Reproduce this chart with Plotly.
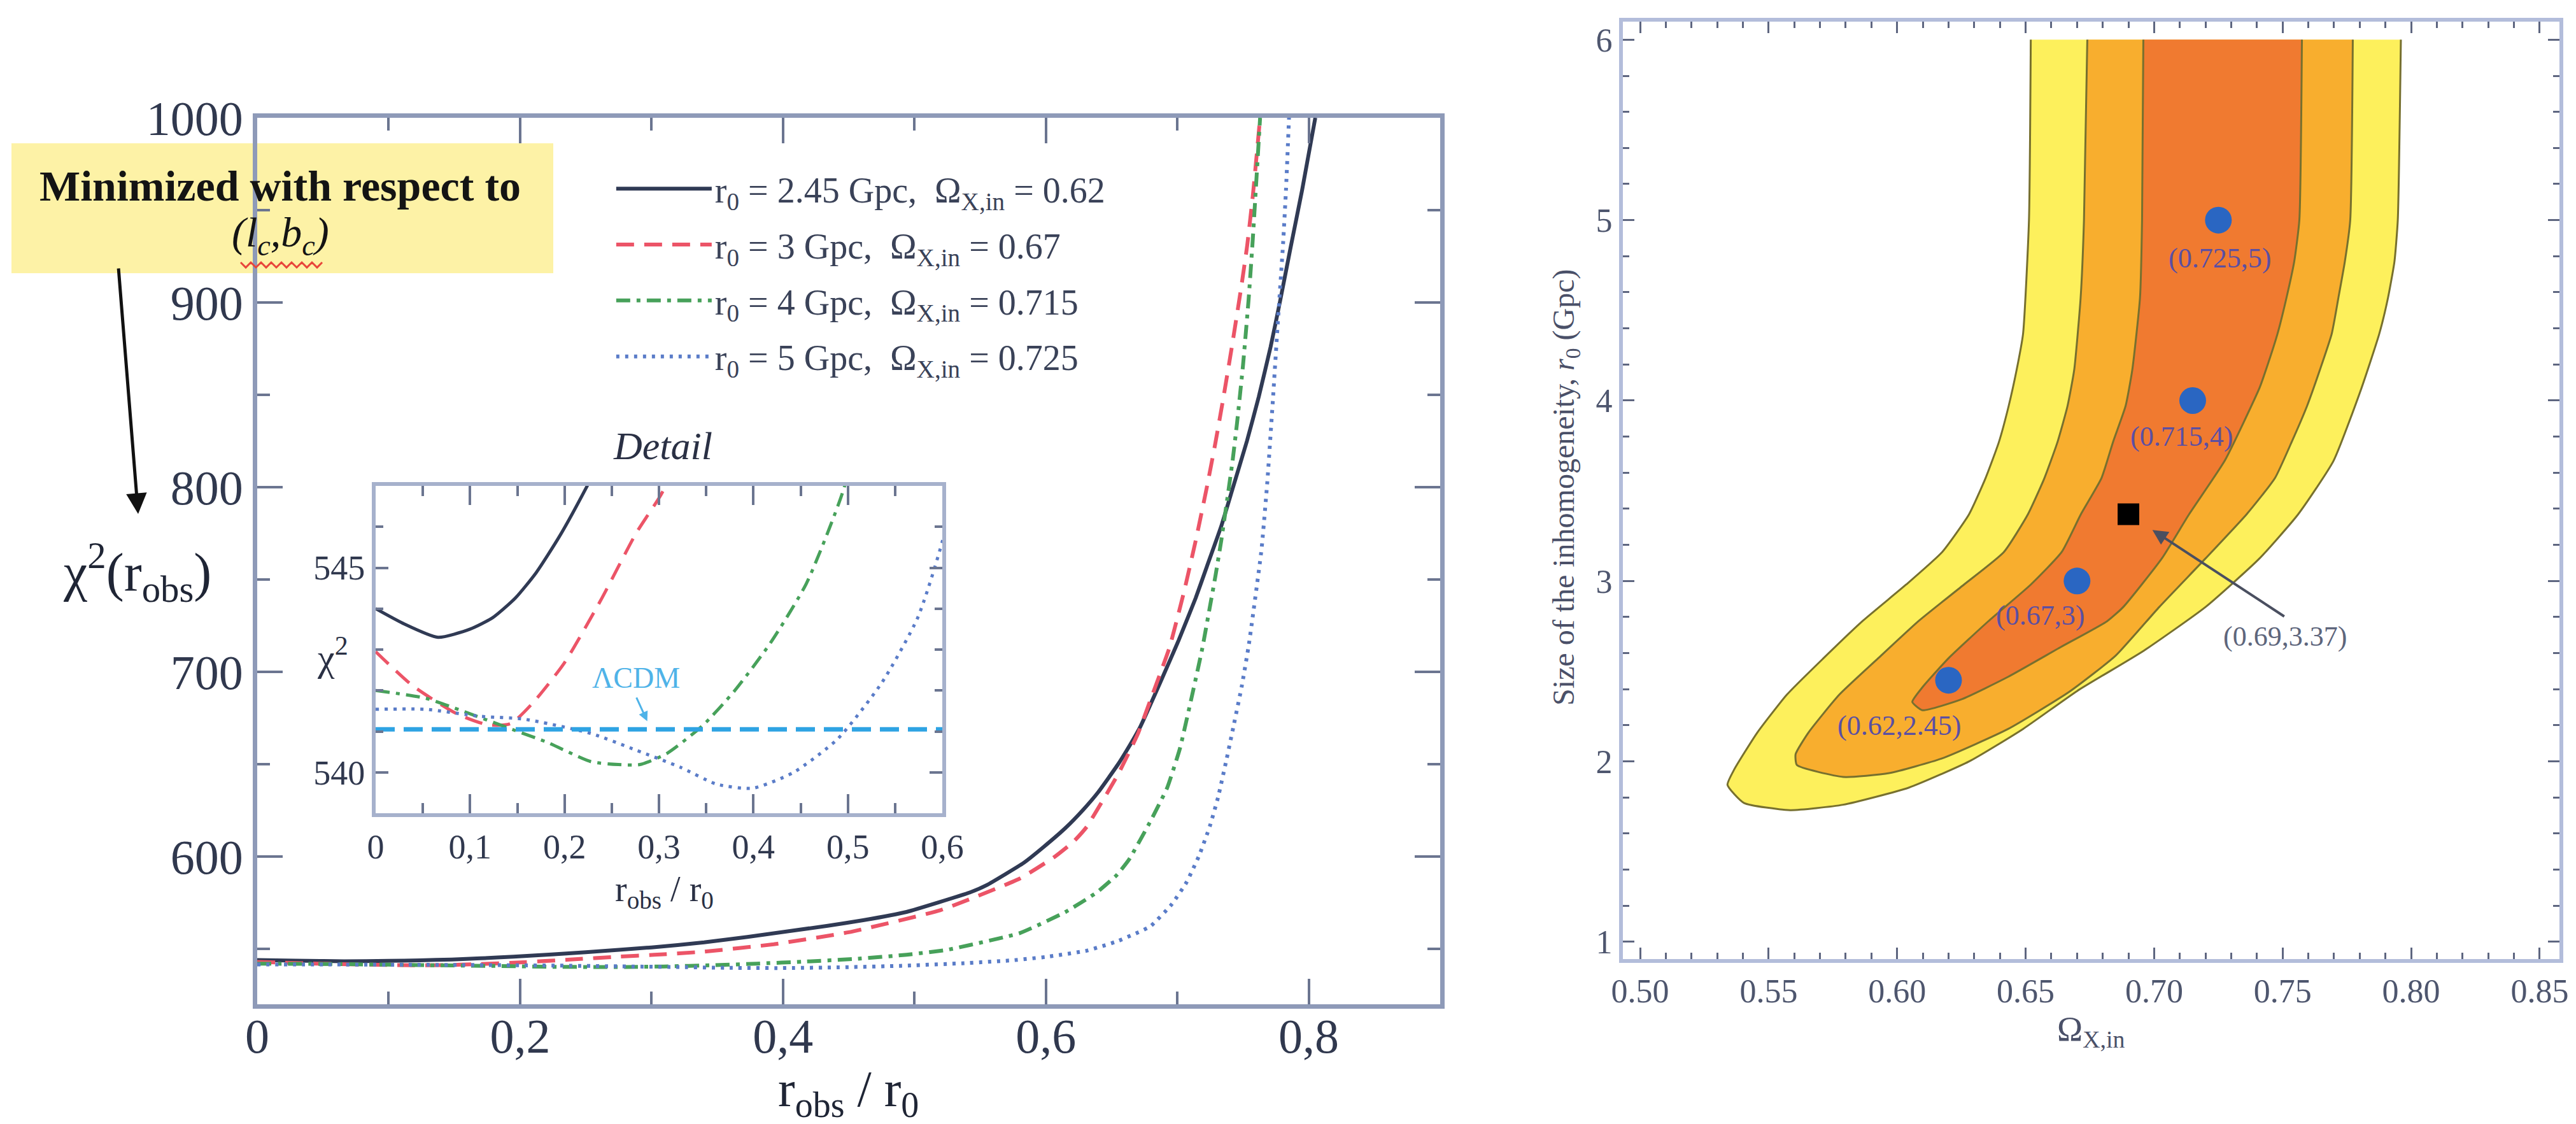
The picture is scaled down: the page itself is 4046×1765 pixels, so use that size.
import plotly.graph_objects as go

FONT = "Liberation Serif"
W, H = 4046, 1765

# ---- left panel : chi^2(r_obs) for four void models
r_245 = [0, 0.029, 0.066, 0.10, 0.124, 0.148, 0.17, 0.195, 0.224, 0.25, 0.3, 0.34, 0.373, 0.434,
         0.461, 0.494, 0.542, 0.555, 0.583, 0.598, 0.615, 0.628, 0.64, 0.655, 0.662, 0.672, 0.6875,
         0.701, 0.714, 0.7225, 0.7335, 0.742, 0.753, 0.762, 0.771, 0.778, 0.786, 0.795, 0.805]
chi_245 = [544.0, 543.64, 543.3, 543.5, 543.78, 544.26, 544.88, 545.78, 547.0, 548.2, 550.8, 553.5,
           556.5, 562.5, 565.5, 570.0, 580.5, 584.5, 596.5, 605.0, 615.5, 625.0, 635.0, 650.0, 658.0,
           670.5, 695.0, 717.0, 740.0, 757.0, 779.0, 799.0, 825.0, 849.0, 876.0, 900.0, 929.0, 961.0,
           1000.0]

r_3 = [0, 0.039, 0.086, 0.119, 0.143, 0.167, 0.2, 0.238, 0.276, 0.302, 0.34, 0.393, 0.45, 0.52,
       0.58, 0.607, 0.621, 0.631, 0.6553, 0.67, 0.681, 0.694, 0.705, 0.714, 0.7225, 0.729, 0.7357,
       0.7422, 0.7488, 0.7532, 0.7575, 0.763]
chi_3 = [542.95, 542.12, 541.43, 541.16, 541.19, 541.71, 542.68, 544.19, 545.85, 546.78, 548.5,
         552.5, 559.0, 571.0, 588.0, 600.0, 608.0, 616.0, 645.0, 666.4, 687.5, 713.0, 743.0, 771.0,
         800.0, 824.0, 851.0, 879.0, 909.0, 931.0, 958.0, 1000.0]

r_4 = [0, 0.053, 0.1, 0.148, 0.181, 0.228, 0.257, 0.28, 0.309, 0.347, 0.38, 0.418, 0.456, 0.494,
       0.525, 0.58, 0.615, 0.639, 0.654, 0.6634, 0.6795, 0.6924, 0.702, 0.7118, 0.719, 0.7247, 0.729,
       0.7335, 0.7379, 0.7422, 0.7455, 0.75, 0.7543, 0.7575, 0.763]
chi_4 = [542.0, 541.81, 541.43, 541.02, 540.74, 540.26, 540.19, 540.19, 540.47, 541.16, 541.99,
         543.16, 544.61, 546.81, 549.5, 558.5, 570.0, 580.7, 590.0, 598.5, 619.0, 637.4, 658.5, 689.0,
         712.6, 734.8, 751.8, 771.3, 793.0, 815.0, 835.0, 866.0, 902.0, 935.0, 1000.0]

r_5 = [0, 0.053, 0.11, 0.157, 0.228, 0.276, 0.323, 0.361, 0.399, 0.442, 0.489, 0.536, 0.574, 0.6,
       0.631, 0.655, 0.6795, 0.6956, 0.707, 0.7166, 0.7247, 0.731, 0.7376, 0.7432, 0.749, 0.7545,
       0.7641, 0.7685, 0.7729, 0.7762, 0.7805, 0.7827, 0.785]
chi_5 = [541.54, 541.54, 541.37, 541.3, 540.95, 540.54, 540.12, 539.71, 539.61, 539.99, 540.81,
         542.19, 543.78, 545.64, 549.0, 554.3, 562.2, 574.0, 586.0, 600.5, 616.3, 632.0, 653.0, 672.0,
         692.0, 715.0, 766.4, 802.9, 849.0, 886.0, 932.0, 961.0, 1000.0]

chi_lcdm = 541.05
lcdm_r = [0, 0.6]

legend_names = [
    "r<sub>0</sub> = 2.45 Gpc,  Ω<sub>X,in</sub> = 0.62",
    "r<sub>0</sub> = 3 Gpc,  Ω<sub>X,in</sub> = 0.67",
    "r<sub>0</sub> = 4 Gpc,  Ω<sub>X,in</sub> = 0.715",
    "r<sub>0</sub> = 5 Gpc,  Ω<sub>X,in</sub> = 0.725",
]

main_xticks = [0, 0.2, 0.4, 0.6, 0.8]
main_xtext = ["0", "0,2", "0,4", "0,6", "0,8"]
inset_xticks = [0, 0.1, 0.2, 0.3, 0.4, 0.5, 0.6]
inset_xtext = ["0", "0,1", "0,2", "0,3", "0,4", "0,5", "0,6"]
inset_yticks = [540, 545]

# ---- right panel : confidence regions in (Omega_X,in , r0)
om_outer = [0.652, 0.6513, 0.649, 0.6465, 0.6434, 0.6396, 0.6344, 0.628, 0.6175, 0.6035, 0.5867,
            0.5712, 0.5571, 0.5456, 0.5366, 0.534, 0.5404, 0.5584, 0.579, 0.6046, 0.628, 0.649,
            0.67, 0.696, 0.72, 0.741, 0.756, 0.7698, 0.7807, 0.7876, 0.791, 0.7935, 0.7948, 0.796]
r0_outer = [6.0, 5.0, 4.37, 4.17, 3.97, 3.77, 3.57, 3.37, 3.16, 2.98, 2.78, 2.57, 2.37, 2.16, 1.955,
            1.87, 1.77, 1.73, 1.76, 1.855, 2.0, 2.18, 2.39, 2.614, 2.856, 3.125, 3.369, 3.666, 4.07,
            4.37, 4.57, 4.77, 5.0, 6.0]

om_mid = [0.674, 0.6727, 0.6714, 0.6689, 0.6663, 0.6624, 0.6573, 0.6509, 0.6415, 0.626, 0.6085,
          0.5925, 0.5775, 0.5655, 0.5605, 0.561, 0.579, 0.5969, 0.6175, 0.6432, 0.667, 0.685, 0.702,
          0.72, 0.736, 0.747, 0.7535, 0.7595, 0.7645, 0.7691, 0.7717, 0.7742, 0.7763, 0.7773]
r0_mid = [6.0, 5.0, 4.57, 4.17, 3.97, 3.77, 3.57, 3.37, 3.16, 2.98, 2.78, 2.57, 2.37, 2.16, 2.04,
          1.98, 1.914, 1.935, 2.017, 2.18, 2.386, 2.586, 2.856, 3.125, 3.37, 3.57, 3.77, 3.97, 4.17,
          4.37, 4.57, 4.77, 5.0, 6.0]

om_inner = [0.6958, 0.6953, 0.6945, 0.6915, 0.6889, 0.684, 0.6795, 0.6715, 0.664, 0.652, 0.6355,
            0.62, 0.6098, 0.6059, 0.6098, 0.6252, 0.6432, 0.6637, 0.6817, 0.688, 0.703, 0.7136,
            0.7276, 0.741, 0.7435, 0.748, 0.7515, 0.7545, 0.7565, 0.7575]
r0_inner = [6.0, 5.0, 4.57, 4.17, 3.97, 3.77, 3.57, 3.37, 3.16, 2.98, 2.777, 2.572, 2.41, 2.33,
            2.284, 2.345, 2.469, 2.634, 2.777, 2.856, 3.125, 3.37, 3.67, 4.07, 4.17, 4.37, 4.57,
            4.77, 5.0, 6.0]

om_models = [0.62, 0.67, 0.715, 0.725]
r0_models = [2.45, 3, 4, 5]
om_best, r0_best = 0.69, 3.37
# where each little label sits relative to its dot (pixels)
label_dx = [-77, -58, -17, 2]
label_dy = [-71, -54, -57, -60]

# colours
C_AXIS = "#8e9ab8"
C_TICK = "#6b7590"
C_TXT = "#30384e"
cols = ["#303a54", "#ec5467", "#47a15a", "#5a7cc8"]
dashes = ["solid", "28px,16px", "22px,10px,6px,10px", "5px,9px"]

fig = go.Figure()

series = [(r_245, chi_245), (r_3, chi_3), (r_4, chi_4), (r_5, chi_5)]
for i, ((xs, ys), c, d, nm) in enumerate(zip(series, cols, dashes, legend_names)):
    fig.add_trace(go.Scatter(x=xs, y=ys, mode="lines", name=nm, xaxis="x", yaxis="y",
                             legendgroup=f"g{i}",
                             line=dict(color=c, width=6, dash=d, shape="spline", smoothing=0.4)))

# inset ("Detail")
for (xs, ys), c, d in zip(series, cols, dashes):
    fig.add_trace(go.Scatter(x=xs, y=ys, mode="lines", showlegend=False, xaxis="x2", yaxis="y2",
                             line=dict(color=c, width=5, dash=d, shape="spline", smoothing=0.6)))
fig.add_trace(go.Scatter(x=lcdm_r, y=[chi_lcdm] * len(lcdm_r), mode="lines", showlegend=False,
                         xaxis="x2", yaxis="y2",
                         line=dict(color="#2ea3e3", width=7, dash="30px,14px")))

# right panel contours
regions = [(om_outer, r0_outer, "#fdf05c"), (om_mid, r0_mid, "#f8ae2e"), (om_inner, r0_inner, "#f07a30")]
for oms, rs, fc in regions:
    fig.add_trace(go.Scatter(x=oms, y=rs, mode="lines", fill="toself", fillcolor=fc, showlegend=False,
                             xaxis="x3", yaxis="y3", line=dict(width=0, shape="spline", smoothing=0.5),
                             hoverinfo="skip"))
    fig.add_trace(go.Scatter(x=oms, y=rs, mode="lines", showlegend=False, xaxis="x3", yaxis="y3",
                             line=dict(color="#77702e", width=3, shape="spline", smoothing=0.5)))

fig.add_trace(go.Scatter(x=om_models, y=r0_models, mode="markers", showlegend=False,
                         xaxis="x3", yaxis="y3",
                         marker=dict(color="#2a66c2", size=42, line=dict(width=0))))
fig.add_trace(go.Scatter(x=[om_best], y=[r0_best], mode="markers", showlegend=False,
                         xaxis="x3", yaxis="y3",
                         marker=dict(color="black", size=34, symbol="square")))


def ptxt(x, y, text, size, color="#1f2535", **kw):
    # text placed in figure pixels (top-left origin)
    return dict(x=x / W, y=1 - y / H, xref="paper", yref="paper", text=text, showarrow=False,
                xanchor="center", yanchor="middle", font=dict(family=FONT, size=size, color=color), **kw)


annots = []
for om, r0, dx, dy in zip(om_models, r0_models, label_dx, label_dy):
    annots.append(dict(x=om, y=r0, xref="x3", yref="y3", text=f"({om:g},{r0:g})", showarrow=False,
                       xanchor="center", yanchor="middle", xshift=dx, yshift=dy,
                       font=dict(family=FONT, size=44, color="#5a4fa3")))
annots.append(dict(x=om_best, y=r0_best, xref="x3", yref="y3", text="", showarrow=True,
                   ax=0.751, ay=2.80, axref="x3", ayref="y3", standoff=45,
                   arrowhead=2, arrowsize=1.2, arrowwidth=4, arrowcolor="#4a4f60"))
annots.append(dict(x=om_best, y=r0_best, xref="x3", yref="y3", text=f"({om_best:g},{r0_best:g})",
                   showarrow=False, xanchor="center", yanchor="middle", xshift=246, yshift=-192,
                   font=dict(family=FONT, size=44, color="#5e667c")))

annots += [
    ptxt(1324, 1708, "r<sub>obs</sub> / r<sub>0</sub>", 80),
    ptxt(207, 891, "χ<sup>2</sup>(r<sub>obs</sub>)", 84),
    ptxt(514, 1021, "χ<sup>2</sup>", 60, "#2a3044"),
    ptxt(1033, 692, "<i>Detail</i>", 62, "#2a3044"),
    ptxt(1035, 1392, "r<sub>obs</sub> / r<sub>0</sub>", 56, "#2a3044"),
    dict(x=0.2757, y=542.3, xref="x2", yref="y2", showarrow=False, text="ΛCDM",
         xanchor="center", yanchor="middle", font=dict(family=FONT, size=46, color="#4fb3e8")),
    dict(x=0.2876, y=541.25, ax=0.2757, ay=541.85, xref="x2", yref="y2", axref="x2", ayref="y2",
         text="", showarrow=True, arrowhead=2, arrowsize=1, arrowwidth=3, arrowcolor="#4fb3e8"),
    ptxt(432, 284, "<b>Minimized with respect to</b>", 68, "#141414"),
    ptxt(432, 362, "<i>(l<sub>c</sub>,b<sub>c</sub>)</i>", 66, "#141414"),
    dict(x=209 / W, y=1 - 799 / H, xref="paper", yref="paper", text="", showarrow=True,
         ax=-31, ay=-387, arrowhead=2, arrowsize=1.3, arrowwidth=5, arrowcolor="#111111"),
    # right panel titles
    ptxt(3276, 1611, "Ω<sub>X,in</sub>", 54, "#4a5068"),
    ptxt(2451, 757, "Size of the inhomogeneity, <i>r</i><sub>0</sub> (Gpc)", 48, "#4a5068",
         textangle=-90),
]

# spell-checker squiggle under (l_c,b_c)
zz = "M " + " L ".join(f"{(370 + 8 * i) / W:.5f},{1 - (404 + 8 * (i % 2)) / H:.5f}" for i in range(17))

shapes = [
    dict(type="rect", xref="paper", yref="paper", x0=10 / W, x1=861 / W, y0=1 - 421 / H, y1=1 - 217 / H,
         fillcolor="#fdf2a6", line=dict(width=0), layer="below"),
    dict(type="path", xref="paper", yref="paper", path=zz, line=dict(color="#e8453a", width=3)),
    # white card behind the inset so the big curves do not show through
    dict(type="rect", xref="x2 domain", yref="y2 domain", x0=0, x1=1, y0=0, y1=1,
         fillcolor="white", line=dict(width=0), layer="below"),
]

tickfont_main = dict(family=FONT, size=76, color=C_TXT)
tickfont_in = dict(family=FONT, size=54, color=C_TXT)
tickfont_r = dict(family=FONT, size=52, color="#4e566e")

fig.update_layout(
    width=W, height=H,
    margin=dict(l=0, r=0, t=0, b=0),
    paper_bgcolor="white", plot_bgcolor="white",
    font=dict(family=FONT),
    showlegend=True,
    legend=dict(x=0.236, y=0.861, xanchor="left", yanchor="top", bgcolor="rgba(0,0,0,0)",
                font=dict(family=FONT, size=56, color="#3a4258"), tracegroupgap=12, itemwidth=150),
    xaxis=dict(domain=[396 / W, 2254 / W], anchor="y", range=[0, 0.9], tickvals=main_xticks,
               ticktext=main_xtext, ticks="inside", ticklen=40, tickwidth=4, tickcolor=C_TICK,
               showline=True, linecolor=C_AXIS, linewidth=7, mirror="ticks", showgrid=False,
               zeroline=False, tickfont=tickfont_main, automargin=False, ticklabelstandoff=-22,
               minor=dict(dtick=0.1, tick0=0, ticks="inside", ticklen=20, tickwidth=4, tickcolor=C_TICK)),
    yaxis=dict(domain=[1 - 1569 / H, 1 - 177 / H], anchor="x", range=[520, 1000], tick0=0, dtick=100,
               ticks="inside", ticklen=40, tickwidth=4, tickcolor=C_TICK, showline=True,
               linecolor=C_AXIS, linewidth=7, mirror="ticks", showgrid=False, zeroline=False,
               tickfont=tickfont_main, automargin=False,
               minor=dict(dtick=50, tick0=0, ticks="inside", ticklen=20, tickwidth=4, tickcolor=C_TICK)),
    xaxis2=dict(domain=[582 / W, 1472 / W], anchor="y2", range=[0, 0.6], tickvals=inset_xticks,
                ticktext=inset_xtext, ticks="inside", ticklen=30, tickwidth=4, tickcolor=C_TICK,
                showline=True, linecolor="#a6b1cc", linewidth=6, mirror="ticks", showgrid=False,
                zeroline=False, tickfont=tickfont_in, automargin=False,
                minor=dict(dtick=0.05, tick0=0, ticks="inside", ticklen=16, tickwidth=4, tickcolor=C_TICK)),
    yaxis2=dict(domain=[1 - 1269 / H, 1 - 755 / H], anchor="x2", range=[539, 547], tickvals=inset_yticks,
                ticks="inside", ticklen=20, tickwidth=4, tickcolor=C_TICK, showline=True,
                linecolor="#a6b1cc", linewidth=6, mirror="ticks", showgrid=False, zeroline=False,
                tickfont=tickfont_in, automargin=False,
                minor=dict(dtick=1, tick0=0, ticks="inside", ticklen=12, tickwidth=4, tickcolor=C_TICK)),
    xaxis3=dict(domain=[2541 / W, 4012 / W], anchor="y3", range=[0.4933, 0.8577], tick0=0.5, dtick=0.05,
                tickformat=".2f", ticks="inside", ticklen=18, tickwidth=3, tickcolor="#5e6680",
                showline=True, linecolor="#b3bddb", linewidth=6, mirror="ticks", showgrid=False,
                zeroline=False, tickfont=tickfont_r, automargin=False,
                minor=dict(dtick=0.01, tick0=0.5, ticks="inside", ticklen=10, tickwidth=3,
                           tickcolor="#5e6680")),
    yaxis3=dict(domain=[1 - 1497.6 / H, 1 - 26 / H], anchor="x3", range=[0.906, 6.1], tick0=0, dtick=1,
                ticks="inside", ticklen=18, tickwidth=3, tickcolor="#5e6680", showline=True,
                linecolor="#b3bddb", linewidth=6, mirror="ticks", showgrid=False, zeroline=False,
                tickfont=tickfont_r, automargin=False,
                minor=dict(dtick=0.2, tick0=0, ticks="inside", ticklen=10, tickwidth=3,
                           tickcolor="#5e6680")),
    annotations=annots,
    shapes=shapes,
)

fig.write_html("out.html")
